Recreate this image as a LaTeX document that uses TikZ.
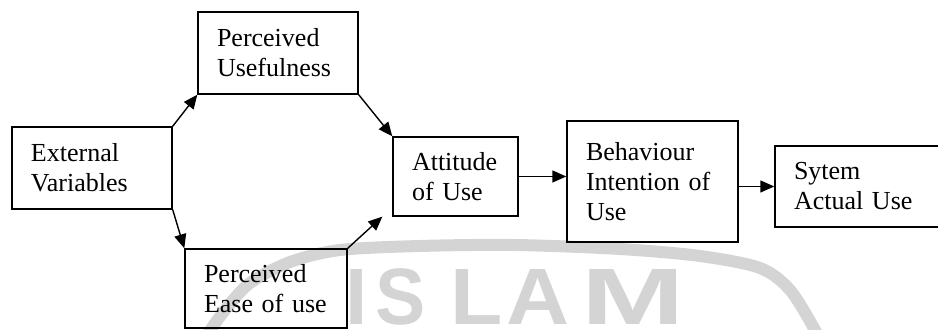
\documentclass[tikz,border=0pt]{standalone}
\usepackage{fontspec}
\usepackage{graphicx}
\setmainfont{Liberation Serif}
\newfontfamily\wmfont{Liberation Sans}
\usetikzlibrary{arrows.meta}

\tikzset{
  stepbox/.style={draw, line width=0.7pt, align=left, inner xsep=9.5pt, inner ysep=0pt,
    font=\fontsize{13}{15}\selectfont},
  arr/.style={line width=0.7pt, -{Triangle[length=7pt,width=6pt]}},
  wmline/.style={draw=black!17, line width=6pt},
  wmletter/.style={text=black!17, inner sep=0pt, anchor=base,
    font=\wmfont\bfseries\fontsize{40}{40}\selectfont}
}

\begin{document}
\begin{tikzpicture}[x=0.5pt, y=-0.5pt]
  \useasboundingbox (0,0) rectangle (938,330);
  \clip (0,0) rectangle (938,330);

  % faint background seal
  \draw[wmline] plot[smooth, tension=0.5] coordinates {
    (200,345) (225,310) (250,283) (290,262) (340,250) (420,246) (515,245)
    (620,249) (700,256) (760,268) (790,290) (815,330) (822,345)};
  \node[wmletter] (wmI) at (357,325) {I};
  \node[wmletter] (wmS) at (401,325) {\scalebox{0.94}[1]{S}};
  \node[wmletter] (wmL) at (477,325) {\scalebox{1.07}[1]{L}};
  \node[wmletter] (wmA) at (538,325) {\scalebox{1.09}[1]{A}};
  \node[wmletter] (wmM) at (633,325) {\scalebox{1.55}[1]{M}};

  % model boxes
  \node[stepbox, minimum width=80pt, minimum height=41pt, text width=61pt]
    (ev) at (92,168) {External\\Variables};
  \node[stepbox, minimum width=80pt, minimum height=41pt, text width=61pt]
    (pu) at (278,53) {Perceived\\Usefulness};
  \node[stepbox, minimum width=81pt, minimum height=39.5pt, text width=62pt]
    (peou) at (266,288.5) {Perceived\\Ease of use};
  \node[stepbox, minimum width=62.5pt, minimum height=39.5pt, text width=43.5pt]
    (at) at (455.5,176.5) {Attitude\\of Use};
  \node[stepbox, minimum width=85.5pt, minimum height=60.5pt, text width=66.5pt]
    (bi) at (652.5,181.5) {Behaviour\\Intention of\\Use};
  \node[stepbox, minimum width=83.5pt, minimum height=40.5pt, text width=64.5pt]
    (sa) at (858.5,186.5) {Sytem\\Actual Use};

  % connectors
  \draw[arr] (ev.north east) -- (pu.south west);
  \draw[arr] (pu.south east) -- (at.north west);
  \draw[arr] (ev.south east) -- (peou.north west);
  \draw[arr] (peou.north east) -- ([xshift=-5pt]at.south west);
  \draw[arr] (at.east) -- (at.east -| bi.west);
  \draw[arr] (bi.east |- sa.west) -- (sa.west);
\end{tikzpicture}
\end{document}
